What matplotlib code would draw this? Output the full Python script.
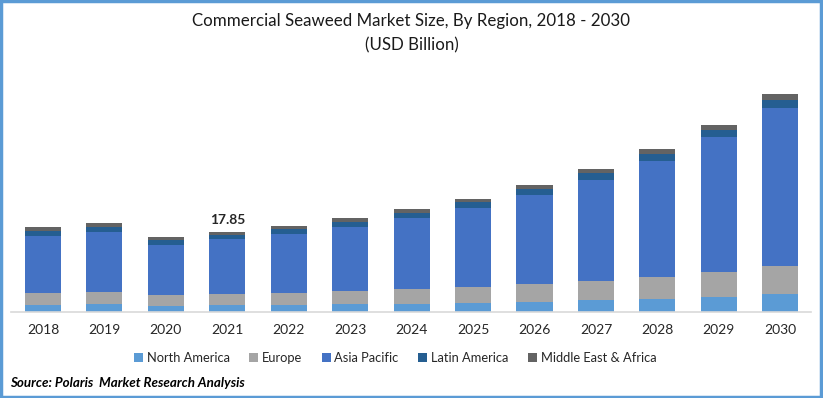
import matplotlib.pyplot as plt
import numpy as np
from matplotlib.patches import Rectangle

plt.rcParams['font.family'] = ['Lato', 'DejaVu Sans']

years = ['2018', '2019', '2020', '2021', '2022', '2023', '2024',
         '2025', '2026', '2027', '2028', '2029', '2030']
north_america = [1.56, 1.79, 1.34, 1.56, 1.56, 1.79, 1.79, 2.01, 2.23, 2.68, 2.90, 3.35, 4.02]
europe = [2.68, 2.68, 2.45, 2.45, 2.68, 2.90, 3.35, 3.57, 4.02, 4.24, 4.91, 5.58, 6.25]
asia_pacific = [12.79, 13.39, 11.23, 12.27, 13.16, 14.28, 15.84, 17.63, 19.86, 22.53, 25.88, 30.12, 35.25]
latin_america = [1.04, 1.12, 1.04, 0.97, 1.12, 1.12, 1.12, 1.34, 1.34, 1.56, 1.56, 1.56, 1.78]
mea = [0.89, 0.89, 0.67, 0.60, 0.67, 0.89, 0.89, 0.67, 0.89, 0.89, 1.12, 1.12, 1.34]

regions = ['North America', 'Europe', 'Asia Pacific', 'Latin America', 'Middle East & Africa']
colors = ['#5B9BD5', '#A5A5A5', '#4472C4', '#255E91', '#636363']
series = [north_america, europe, asia_pacific, latin_america, mea]

fig = plt.figure(figsize=(8.23, 3.98), dpi=100)
ax = fig.add_axes([11 / 823, 86 / 398, 800 / 823, 222 / 398])

x = np.arange(len(years))
bottom = np.zeros(len(years))
for name, vals, c in zip(regions, series, colors):
    ax.bar(x, vals, 0.586, bottom=bottom, color=c, label=name)
    bottom += np.array(vals)

# only the 2021 total is labelled
ax.text(3, bottom[3] + 1.4, f'{bottom[3]:.2f}', ha='center', va='bottom',
        fontsize=10, fontweight='bold', color='#262626')

ax.set_xlim(-0.52, 12.5)
ax.set_ylim(0, 49.5)
ax.set_yticks([])
ax.set_xticks(x)
ax.set_xticklabels(years, fontsize=10, color='#262626')
ax.tick_params(axis='x', length=0, pad=9)
for s in ['top', 'right', 'left']:
    ax.spines[s].set_visible(False)
ax.spines['bottom'].set_color('#D9D9D9')
ax.spines['bottom'].set_linewidth(1.2)

fig.text(0.5, 1 - 21 / 398, 'Commercial Seaweed Market Size, By Region, 2018 - 2030',
         ha='center', va='center', fontsize=12.2, color='#1a1a1a')
fig.text(0.5, 1 - 45 / 398, '(USD Billion)', ha='center', va='center',
         fontsize=12.2, color='#1a1a1a')

fig.legend(loc='center', bbox_to_anchor=(395 / 823, 1 - 358 / 398), ncol=5,
           frameon=False, fontsize=9.3, handlelength=0.7, handleheight=0.7,
           handletextpad=0.3, columnspacing=1.5, labelcolor='#262626')

fig.text(10 / 823, 1 - 383 / 398, 'Source: Polaris  Market Research Analysis',
         ha='left', va='center', fontsize=9.6, fontweight='bold', fontstyle='italic')

# blue frame round the picture
fig.patches.append(Rectangle((0.001, 0.002), 0.997, 0.995, transform=fig.transFigure,
                             fill=False, edgecolor='#5B9BD5', linewidth=2.5))

fig.savefig('out.png', dpi=100)
